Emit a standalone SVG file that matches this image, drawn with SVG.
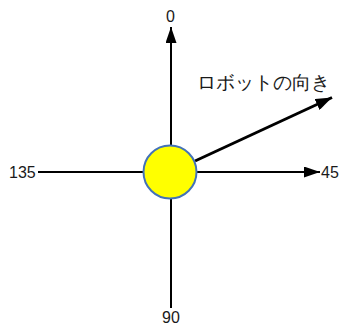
<svg xmlns="http://www.w3.org/2000/svg" width="342" height="325" viewBox="0 0 342 325">
<style>
.ax{stroke:#000;stroke-width:2;fill:none}
.dir{stroke:#000;stroke-width:3;fill:none}
.lbl{font-family:"Liberation Sans",Arial,sans-serif;fill:#1a1a1a}
</style>
<defs>
<marker id="ah" markerWidth="8" markerHeight="5.5" refX="8" refY="2.75" orient="auto" markerUnits="strokeWidth">
<path d="M0,0 L8,2.75 L0,5.5 Z" fill="#000"/>
</marker>
<marker id="ah2" markerWidth="5.5" markerHeight="4" refX="5.5" refY="2" orient="auto" markerUnits="strokeWidth">
<path d="M0,0 L5.5,2 L0,4 Z" fill="#000"/>
</marker>
</defs>
<g id="connectors">
<line class="ax" x1="171" y1="308" x2="171" y2="27" marker-end="url(#ah)"/>
<line class="ax" x1="38" y1="172" x2="320" y2="172" marker-end="url(#ah)"/>
<line class="dir" x1="195" y1="161" x2="332" y2="97.5" marker-end="url(#ah2)"/>
</g>
<g id="robot">
<circle cx="170" cy="172" r="26.5" fill="#ffff00" stroke="#4372b8" stroke-width="2"/>
</g>
<g id="label-0"><text class="lbl" x="170.5" y="21.5" font-size="16" text-anchor="middle">0</text></g>
<g id="label-45"><text class="lbl" x="321" y="177.5" font-size="16">45</text></g>
<g id="label-90"><text class="lbl" x="171" y="323" font-size="16" text-anchor="middle">90</text></g>
<g id="label-135"><text class="lbl" x="9" y="178" font-size="16">135</text></g>
<g id="label-dir"><text class="lbl" x="197" y="88.5" font-size="18.6" font-family="'Liberation Sans','Noto Sans CJK JP',sans-serif">ロボットの向き</text></g>
</svg>
